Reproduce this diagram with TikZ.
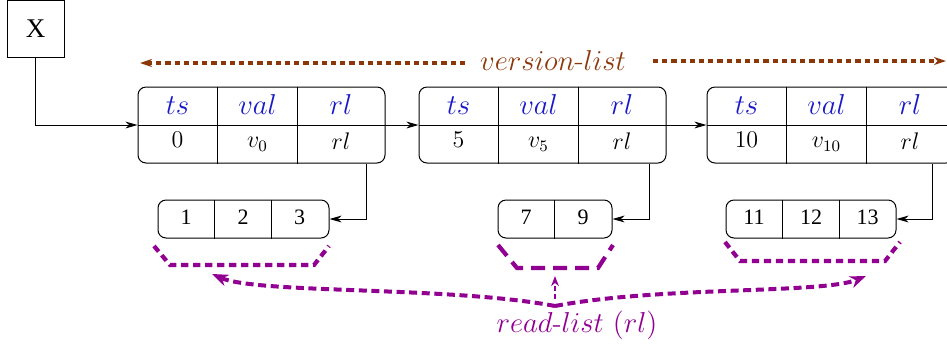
\documentclass[tikz,border=0pt]{standalone}
\usepackage{fontspec}
\newfontfamily\timesf{Liberation Serif}
\usetikzlibrary{arrows.meta}
\definecolor{vbrown}{RGB}{140,55,10}
\definecolor{rpurple}{RGB}{145,0,145}
\definecolor{hblue}{RGB}{25,25,200}
\begin{document}
\begin{tikzpicture}[x=0.5pt,y=-0.5pt,
  thin line/.style={line width=0.5pt},
  vbox/.style={draw, thin line, rounded corners=4pt, minimum width=123.5pt, minimum height=38pt, inner sep=0pt},
  rbox/.style={draw, thin line, rounded corners=4pt, minimum height=19pt, inner sep=0pt},
  head/.style={text=hblue, font=\fontsize{15}{17}\selectfont, inner sep=0pt, anchor=base},
  cellv/.style={font=\fontsize{12}{14}\selectfont, inner sep=0pt, anchor=base},
  cellrl/.style={font=\fontsize{12.5}{15}\selectfont, inner sep=0pt, anchor=base},
  rnum/.style={font=\timesf\fontsize{11}{13}\selectfont, inner sep=0pt},
  link/.style={draw, thin line, -{Stealth[length=6pt,width=3.4pt,inset=1.8pt]}},
  varrow/.style={draw=vbrown, line width=1.7pt, dash pattern=on 2.6pt off 2pt, -{Stealth[length=6pt,width=4pt,inset=1.8pt]}},
  brace/.style={draw=rpurple, line width=2.1pt, dash pattern=on 3.6pt off 2.4pt},
  bracelong/.style={draw=rpurple, line width=2.1pt, dash pattern=on 7pt off 4pt},
  rcurve/.style={draw=rpurple, line width=2pt, dash pattern=on 4pt off 2.3pt, -{Stealth[length=8pt,width=6pt,inset=2.5pt]}},
  rshort/.style={draw=rpurple, line width=1pt, dash pattern=on 2.5pt off 1.5pt, -{Stealth[length=5pt,width=3.8pt,inset=1.5pt]}}
]
\useasboundingbox (0,0) rectangle (947,344);

% X box
\node[draw, thin line, minimum size=28.5pt, inner sep=0pt, font=\timesf\fontsize{13.5}{15}\selectfont] (X) at (35.5,28.5) {X};

% version boxes
\node[vbox] (v1) at (261.5,125) {};
\node[vbox] (v2) at (542.5,125) {};
\node[vbox] (v3) at (830.5,125) {};

\foreach \v/\n/\val in {v1/0/v_0, v2/5/v_5, v3/10/v_{10}} {
  \draw[thin line] (\v.west) -- (\v.east);
  \draw[thin line] ([xshift=40pt]\v.north west) -- ([xshift=40pt]\v.south west);
  \draw[thin line] ([xshift=80pt]\v.north west) -- ([xshift=80pt]\v.south west);
  \node[head] (\v-ts) at ([xshift=20pt,yshift=-14pt]\v.north west) {$ts$};
  \node[head] (\v-val) at ([xshift=60pt,yshift=-14pt]\v.north west) {$val$};
  \node[head] (\v-rl) at ([xshift=101.75pt,yshift=-14pt]\v.north west) {$rl$};
  \node[cellv] (\v-n) at ([xshift=20pt,yshift=-30.5pt]\v.north west) {$\n$};
  \node[cellv] (\v-x) at ([xshift=60pt,yshift=-30.5pt]\v.north west) {$\val$};
  \node[cellrl] (\v-r) at ([xshift=101.75pt,yshift=-31.5pt]\v.north west) {$rl$};
}

% version-list label and arrows
\node[text=vbrown, font=\fontsize{15}{17}\selectfont, inner sep=0pt] (vl) at (553,60) {$version$-$list$};
\coordinate (vlL) at (465,63);
\coordinate (vlLend) at (140,63);
\coordinate (vlR) at (653,61);
\coordinate (vlRend) at (946,61);
\draw[varrow] (vlL) -- (vlLend);
\draw[varrow] (vlR) -- (vlRend);

% read-list boxes
\node[rbox, minimum width=85.5pt] (r1) at (243.5,219) {};
\node[rbox, minimum width=57pt] (r2) at (555,219) {};
\node[rbox, minimum width=85pt] (r3) at (811,219) {};

\foreach \r in {r1,r2,r3} {
  \draw[thin line] ([xshift=28.5pt]\r.north west) -- ([xshift=28.5pt]\r.south west);
}
\foreach \r in {r1,r3} {
  \draw[thin line] ([xshift=57pt]\r.north west) -- ([xshift=57pt]\r.south west);
}
\node[rnum] (r1a) at ([xshift=14.25pt,yshift=1pt]r1.west) {1};
\node[rnum] (r1b) at ([xshift=42.75pt,yshift=1pt]r1.west) {2};
\node[rnum] (r1c) at ([xshift=71pt,yshift=1pt]r1.west) {3};
\node[rnum] (r2a) at ([xshift=14.25pt,yshift=1pt]r2.west) {7};
\node[rnum] (r2b) at ([xshift=42.75pt,yshift=1pt]r2.west) {9};
\node[rnum] (r3a) at ([xshift=14.25pt,yshift=1pt]r3.west) {11};
\node[rnum] (r3b) at ([xshift=42.75pt,yshift=1pt]r3.west) {12};
\node[rnum] (r3c) at ([xshift=71pt,yshift=1pt]r3.west) {13};

% links
\draw[link] (X.south) |- (v1.west);
\draw[link] (v1.east) -- (v2.west);
\draw[link] (v2.east) -- (v3.west);
\coordinate (c1) at ([xshift=114.5pt]v1.south west);
\coordinate (c2) at ([xshift=115.5pt]v2.south west);
\coordinate (c3) at ([xshift=113pt]v3.south west);
\draw[link] (c1) |- (r1.east);
\draw[link] (c2) |- (r2.east);
\draw[link] (c3) |- (r3.east);

% dashed braces
\draw[brace] (154,246) -- (170,265) -- (314,265) -- (329,246);
\draw[bracelong] (498,245) -- (517,268) -- (598,268) -- (613,245);
\draw[brace] (725,242) -- (740,261) -- (885,261) -- (900,242);

% read-list label and arrows
\node[text=rpurple, font=\fontsize{14}{16}\selectfont, inner sep=0pt] (rlt) at (577,325) {$read$-$list$~$(rl)$};
\coordinate (j) at (555,306);
\coordinate (ta) at (212,274);
\coordinate (tc) at (866,276);
\coordinate (tbs) at (555,299);
\coordinate (tb) at (555,276);
\draw[rcurve] (j) .. controls (450,286) and (258,294) .. (ta);
\draw[rcurve] (j) .. controls (660,286) and (822,294) .. (tc);
\draw[rshort] (tbs) -- (tb);
\end{tikzpicture}
\end{document}
